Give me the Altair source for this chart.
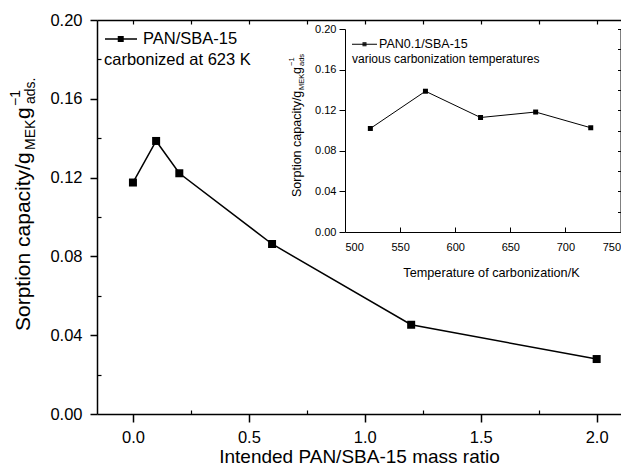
import altair as alt
import pandas as pd

# ---- data ----
ratio = [0.0, 0.1, 0.2, 0.6, 1.2, 2.0]
capacity = [0.1175, 0.1386, 0.1222, 0.0863, 0.0453, 0.0279]
main_series = "PAN/SBA-15"
main_note = "carbonized at 623 K"

temps = [523, 573, 623, 673, 723]
inset_capacity = [0.1020, 0.1387, 0.1128, 0.1182, 0.1027]
inset_series = "PAN0.1/SBA-15"
inset_note = "various carbonization temperatures"

x_ticks = [0.0, 0.5, 1.0, 1.5, 2.0]
x_minor = [0.25, 0.75, 1.25, 1.75]
x_top = [0.0, 0.25, 0.5, 0.75, 1.0, 1.25, 1.5, 1.75, 2.0]
y_ticks = [0.0, 0.04, 0.08, 0.12, 0.16, 0.20]
y_minor = [0.02, 0.06, 0.10, 0.14, 0.18]
inset_x_ticks = [500, 550, 600, 650, 700, 750]
inset_x_inner = [550, 600, 650, 700]
inset_y_right = [0.0, 0.02, 0.04, 0.06, 0.08, 0.10, 0.12, 0.14, 0.16, 0.18, 0.20]

FONT = "Liberation Sans"
W, H = 524, 394
IX0, IX1 = 248, 523.5   # inset x range inside the main plot (pixels)
IY0, IY1 = 212, 9       # inset y range

main_df = pd.DataFrame({"ratio": ratio, "cap": capacity, "series": main_series})
inset_df = pd.DataFrame({"temp": temps, "cap": inset_capacity, "series": inset_series})

xs = alt.Scale(domain=[-0.155, 2.105], nice=False, zero=False)
ys = alt.Scale(domain=[0, 0.2], nice=False, zero=False)
ixs = alt.Scale(domain=[500, 750], range=[IX0, IX1], nice=False, zero=False)
iys = alt.Scale(domain=[0, 0.2], range=[IY0, IY1], nice=False, zero=False)

ax = dict(grid=False, domainColor="black", tickColor="black", labelColor="black",
          titleColor="black", labelFont=FONT, titleFont=FONT, titleFontWeight="normal")

MAIN_SYM = ("M-2.42,0H8.25"
            "M1.83,-0.75H3.83M1.83,-0.25H3.83M1.83,0.25H3.83M1.83,0.75H3.83")
INSET_SYM = ("M-3.125,0H9.375"
             "M2.125,-0.75H4.125M2.125,-0.25H4.125M2.125,0.25H4.125M2.125,0.75H4.125")

# ---- main plot ----
main_line = alt.Chart(main_df).mark_line(strokeWidth=1.5, color="black").encode(
    x=alt.X("ratio:Q", scale=xs, axis=alt.Axis(
        orient="bottom", values=x_ticks, format=".1f", tickSize=8, tickWidth=1.5,
        domainWidth=1.5, labelFontSize=16.5, labelPadding=7,
        title="Intended PAN/SBA-15 mass ratio", titleFontSize=19, titlePadding=2, **ax)),
    y=alt.Y("cap:Q", scale=ys, axis=alt.Axis(
        orient="left", values=y_ticks, format=".2f", tickSize=7, tickWidth=1.5,
        domainWidth=1.5, labelFontSize=16.5, labelPadding=8, title=None, **ax)),
    color=alt.Color("series:N", scale=alt.Scale(range=["black"]), legend=alt.Legend(
        orient="none", legendX=7, legendY=10.75, padding=0,
        symbolType=MAIN_SYM, symbolSize=36, symbolStrokeWidth=1.5,
        symbolStrokeColor="black",
        labelFont=FONT, labelFontSize=16.5, labelColor="black", labelOffset=22.5,
        title=main_note, titleFont=FONT, titleFontSize=16.5, titleFontWeight="normal",
        titleColor="black", titleOrient="bottom", titleAnchor="start", titleAlign="left",
        titlePadding=4, titleLimit=400, labelLimit=400)),
)
main_pts = alt.Chart(main_df).mark_point(shape="square", filled=True, size=64,
                                         color="black", opacity=1).encode(
    x=alt.X("ratio:Q", scale=xs, axis=None),
    y=alt.Y("cap:Q", scale=ys, axis=None),
)

top_helper = alt.Chart(main_df).mark_point(opacity=0).encode(
    x=alt.X("ratio:Q", scale=xs, axis=alt.Axis(
        orient="bottom", offset=-H, values=x_top, tickSize=4, tickWidth=1.2,
        labels=False, domainWidth=1.5, title=None, **ax)),
    y=alt.Y("cap:Q", scale=ys, axis=None),
)
minor_helper = alt.Chart(main_df).mark_point(opacity=0).encode(
    x=alt.X("ratio:Q", scale=xs, axis=alt.Axis(
        orient="top", offset=-H, values=x_minor, tickSize=4, tickWidth=1.2,
        labels=False, domain=False, title=None, **ax)),
    y=alt.Y("cap:Q", scale=ys, axis=alt.Axis(
        orient="right", offset=-W, values=y_minor, tickSize=4, tickWidth=1.2,
        labels=False, domain=False, title=None, **ax)),
)

# ---- inset ----
inset_line = alt.Chart(inset_df).mark_line(strokeWidth=1, color="black").encode(
    x=alt.X("temp:Q", scale=ixs, axis=alt.Axis(
        orient="bottom", offset=IY0 - H, values=inset_x_ticks, ticks=False, tickSize=0,
        labelFontSize=11, labelPadding=9, domainWidth=1,
        title="Temperature of carbonization/K", titleFontSize=12.7, titlePadding=14,
        titleX=394, **ax)),
    y=alt.Y("cap:Q", scale=iys, axis=alt.Axis(
        orient="left", offset=-IX0, values=y_ticks, format=".2f", tickSize=6,
        labelFontSize=11, labelPadding=3, domainWidth=1, title=None, **ax)),
    color=alt.Color("series:N", scale=alt.Scale(range=["black"]), legend=alt.Legend(
        orient="none", legendX=255, legendY=18, padding=0,
        symbolType=INSET_SYM, symbolSize=16, symbolStrokeWidth=1,
        symbolStrokeColor="black",
        labelFont=FONT, labelFontSize=12.5, labelColor="black", labelOffset=14.5,
        title=inset_note, titleFont=FONT, titleFontSize=12, titleFontWeight="normal",
        titleColor="black", titleOrient="bottom", titleAnchor="start", titleAlign="left",
        titlePadding=2.5, titleLimit=400, labelLimit=400)),
)
inset_pts = alt.Chart(inset_df).mark_point(shape="square", filled=True, size=25,
                                           color="black", opacity=1).encode(
    x=alt.X("temp:Q", scale=ixs, axis=None),
    y=alt.Y("cap:Q", scale=iys, axis=None),
)
inset_helper = alt.Chart(inset_df).mark_point(opacity=0).encode(
    x=alt.X("temp:Q", scale=ixs, axis=alt.Axis(
        orient="top", offset=-IY0, values=inset_x_inner, tickSize=5,
        labels=False, domain=False, title=None, **ax)),
    y=alt.Y("cap:Q", scale=iys, axis=alt.Axis(
        orient="left", offset=-IX1, values=inset_y_right, tickSize=3,
        labels=False, domain=True, domainWidth=1, title=None, **ax)),
)

# ---- y-axis titles with sub/superscripts ----
def piece(txt, size, x, y):
    return alt.Chart(alt.Data(values=[{}])).mark_text(
        text=txt, angle=270, align="left", baseline="alphabetic",
        font=FONT, fontSize=size, color="black").encode(
        x=alt.value(x), y=alt.value(y))

titles = [
    piece("Sorption capacity/g", 21, -67, 311),
    piece("MEK", 14, -62, 130),
    piece("g", 21, -67, 99),
    piece("\u22121", 14, -77, 86),
    piece("ads.", 14, -62, 84),
    piece("Sorption capacity/g", 12.5, 204, 177),
    piece("MEK", 7.5, 207, 70),
    piece("g", 12.5, 204, 54),
    piece("\u22121", 7.5, 197, 46),
    piece("ads", 7.5, 207, 46),
]

chart = alt.layer(
    main_line, main_pts, top_helper, minor_helper,
    inset_line, inset_pts, inset_helper, *titles
).resolve_scale(
    x="independent", y="independent", color="independent"
).properties(
    width=W, height=H,
    padding={"left": 89, "top": 12, "right": 0, "bottom": 53},
    autosize=alt.AutoSizeParams(type="none"),
).configure_view(stroke=None)

chart.save("out.html", embed_options={"renderer": "svg", "actions": False})
